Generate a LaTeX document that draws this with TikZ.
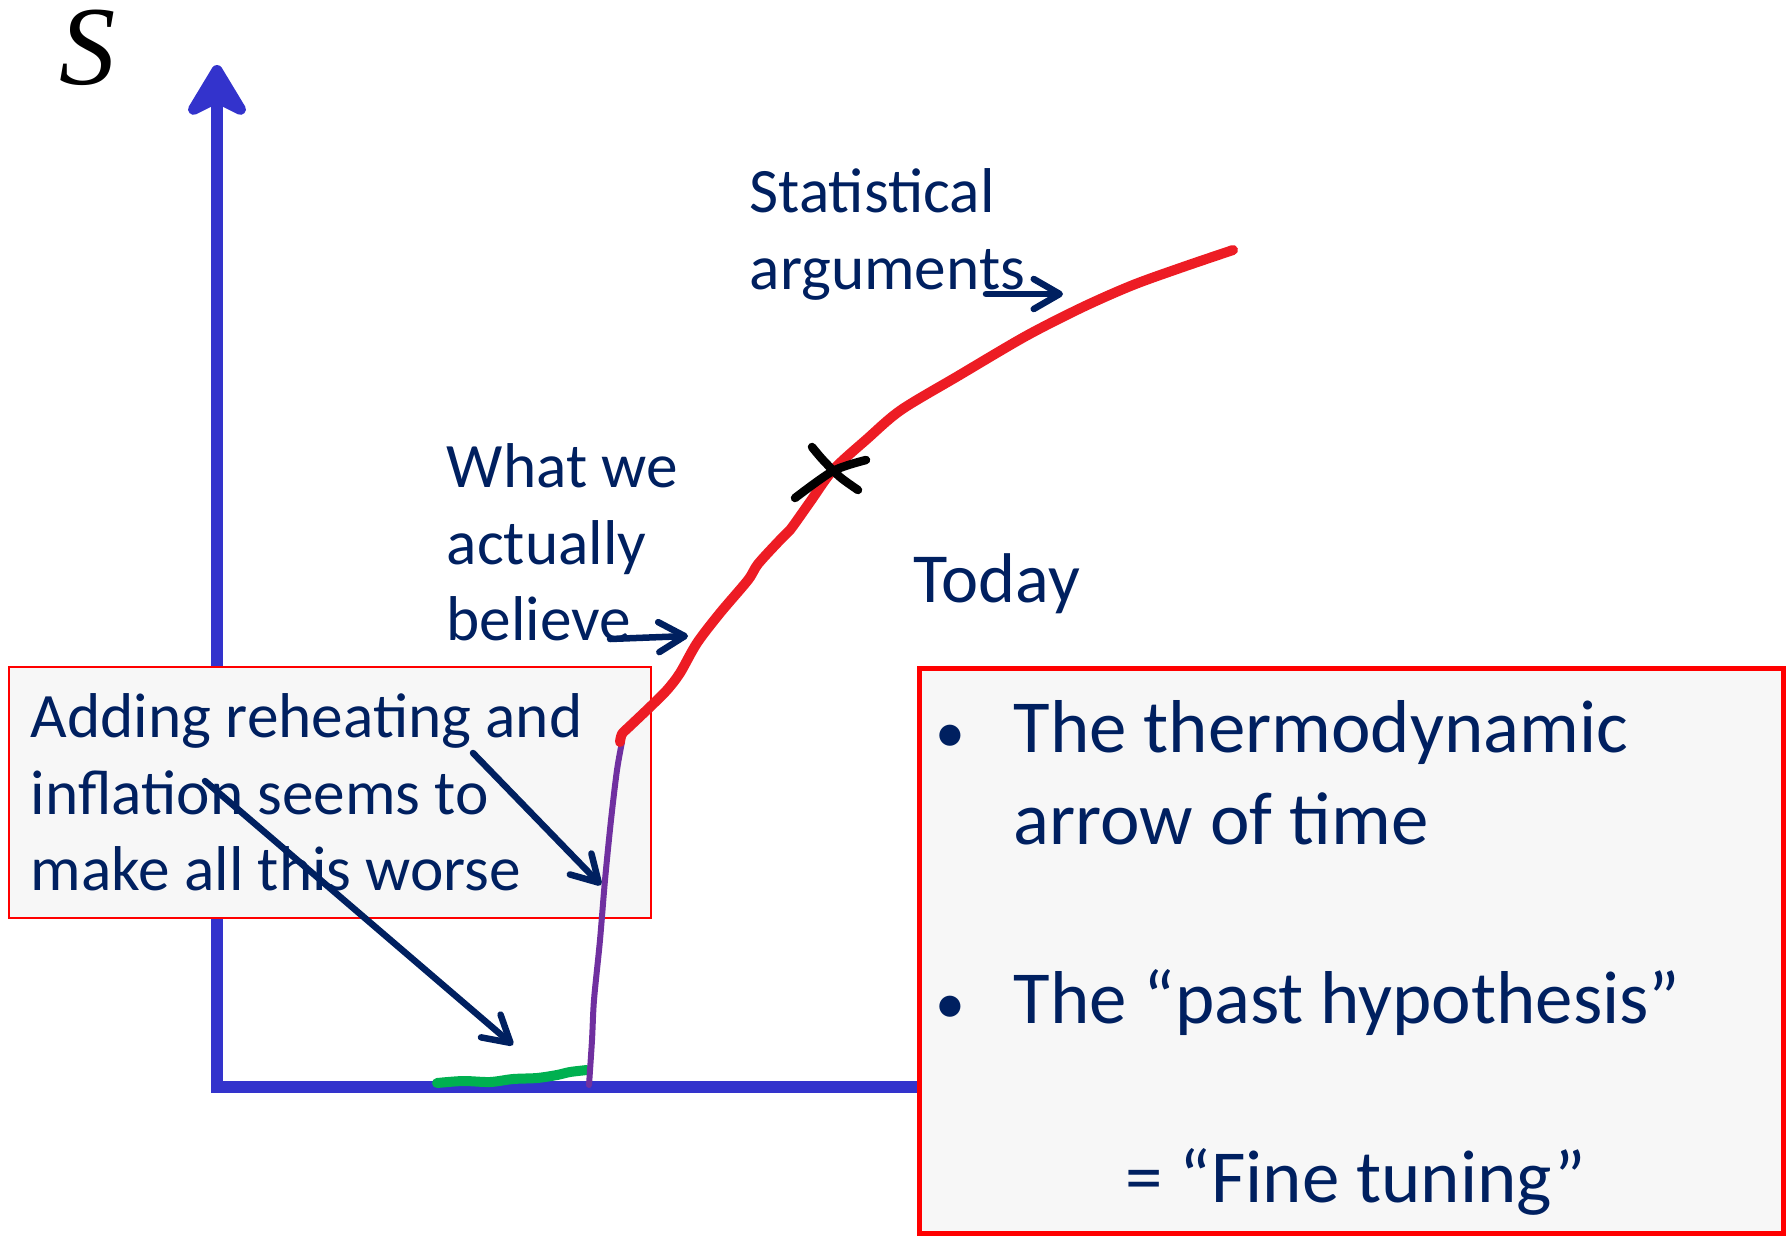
\documentclass[tikz,border=0pt]{standalone}
\usepackage{fontspec}
\setmainfont{Carlito}
\newfontfamily\timesfont{Liberation Serif}
\definecolor{axisblue}{RGB}{51, 51, 204}
\definecolor{navy}{RGB}{0, 32, 96}
\definecolor{curvered}{RGB}{237, 28, 36}
\definecolor{boxred}{RGB}{255, 0, 0}
\definecolor{boxfill}{RGB}{247, 247, 247}
\definecolor{inflgreen}{RGB}{0, 176, 80}
\definecolor{reheatpurple}{RGB}{112, 48, 160}
\usetikzlibrary{arrows.meta, positioning, calc}
\tikzset{
	axis/.style={line width=0.12cm, draw=axisblue, -{Stealth[length=0.62cm, width=0.74cm, inset=0.18cm, round]}},
	note/.style={text=navy, align=flush left, inner sep=0pt, anchor=north west, font=\fontsize{18}{21.8}\selectfont},
	bignote/.style={note, font=\fontsize{21.3}{26.2}\selectfont},
	leftbox/.style={rectangle, draw=boxred, fill=boxfill, line width=0.02cm, align=flush left, text=navy, text width=5.98cm, inner xsep=0.22cm, minimum width=6.42cm, minimum height=2.51cm, font=\fontsize{18}{21.8}\selectfont},
	bigbox/.style={rectangle, draw=boxred, fill=boxfill, line width=0.05cm, minimum width=8.63cm, minimum height=5.64cm},
	pointer/.style={-{Straight Barb[length=2.6mm, width=3mm, round]}, line width=0.065cm, draw=navy, line cap=round},
	stroke/.style={line width=0.1cm, line cap=round, line join=round},
}

\begin{document}
\begin{tikzpicture}[x=0.01cm, y=-0.01cm]
	\useasboundingbox (0,0) rectangle (1788,1236);
	\coordinate (origin) at (217,1087);
	\coordinate (ytop) at (217,65);
	\coordinate (xend) at (960,1087);
	\draw[axis] (xend) -- (origin) -- (ytop);
	\node[font=\timesfont\itshape\fontsize{32}{32}\selectfont] (entropy) at (88,48) {S};

	\node[leftbox] (addbox) at (330,792.5) {Adding reheating and\\inflation seems to\\make all this worse};
	\node[bigbox] (tuningbox) at (1351.5,951) {};

	\node[note] (stat) at (749,168) {Statistical\\arguments};
	\node[note] (believe) at (446,443) {What we\\actually\\believe};
	\node[note, font=\fontsize{20}{24}\selectfont] (today) at (913,553) {Today};
	\node[bignote] (item1) at (1013,700) {\llap{{\fontsize{17}{17}\selectfont\textbullet}\hspace{0.48cm}}The thermodynamic\\arrow of time};
	\node[bignote] (item2) at (1013,969) {\llap{{\fontsize{17}{17}\selectfont\textbullet}\hspace{0.48cm}}The “past hypothesis”};
	\node[bignote] (tuning) at (1125,1148) {= “Fine tuning”};

	% inflation, reheating, standard history
	\draw[stroke, inflgreen] plot[smooth] coordinates {(437,1083) (463,1081) (490,1082) (513,1079) (537,1078) (557,1075) (570,1072) (587,1070)};
	\draw[stroke, reheatpurple, line width=0.06cm] plot[smooth] coordinates {(589,1085) (592,1040) (594,1000) (600,940) (605,880) (611,820) (617,770) (622,742)};
	\draw[stroke, curvered] plot[smooth] coordinates {(620,742) (622,734) (630,726) (650,707) (667,690) (680,673) (697,643) (720,613) (748,580) (758,564) (780,540) (790,530) (810,502) (833,470) (867,439) (901,410) (958,376) (1026,336) (1083,307) (1133,285) (1183,267) (1233,250)};
	\draw[stroke, black, line width=0.085cm] plot[smooth] coordinates {(795,498) (833,471) (866,460)};
	\draw[stroke, black, line width=0.085cm] plot[smooth] coordinates {(812,447) (823,460) (840,477) (858,490)};

	\coordinate (stat-a) at (986,294);
	\coordinate (stat-b) at (1063,294);
	\coordinate (believe-a) at (610,639);
	\coordinate (believe-b) at (688,636);
	\coordinate (reheat-a) at (473,753);
	\coordinate (reheat-b) at (601,885);
	\coordinate (infl-a) at (205,781);
	\coordinate (infl-b) at (513,1045);
	\draw[pointer] (stat-a) -- (stat-b);
	\draw[pointer] (believe-a) -- (believe-b);
	\draw[pointer] (reheat-a) -- (reheat-b);
	\draw[pointer] (infl-a) -- (infl-b);
\end{tikzpicture}
\end{document}
